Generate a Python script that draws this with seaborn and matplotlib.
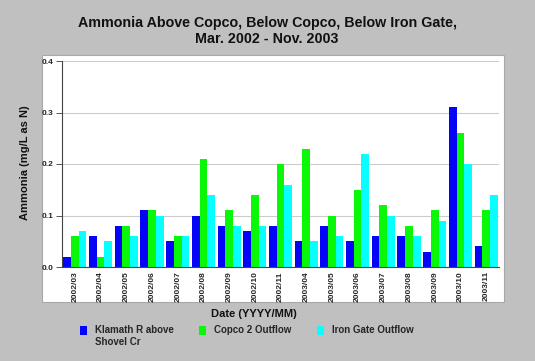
import numpy as np
import pandas as pd
import matplotlib
matplotlib.use('Agg')
import matplotlib.pyplot as plt
import seaborn as sns
from matplotlib.patches import Rectangle, Patch
from matplotlib.legend_handler import HandlerPatch

# Data
months = ['2002/03', '2002/04', '2002/05', '2002/06', '2002/07', '2002/08',
          '2002/09', '2002/10', '2002/11', '2003/04', '2003/05', '2003/06',
          '2003/07', '2003/08', '2003/09', '2003/10', '2003/11']
klamath = [0.02, 0.06, 0.08, 0.11, 0.05, 0.10, 0.08, 0.07, 0.08,
           0.05, 0.08, 0.05, 0.06, 0.06, 0.03, 0.31, 0.04]
copco = [0.06, 0.02, 0.08, 0.11, 0.06, 0.21, 0.11, 0.14, 0.20,
         0.23, 0.10, 0.15, 0.12, 0.08, 0.11, 0.26, 0.11]
irongate = [0.07, 0.05, 0.06, 0.10, 0.06, 0.14, 0.08, 0.08, 0.16,
            0.05, 0.06, 0.22, 0.10, 0.06, 0.09, 0.20, 0.14]
series_names = ['Klamath R above\nShovel Cr', 'Copco 2 Outflow', 'Iron Gate Outflow']
colors = ['#0404F6', '#08F808', '#08FFFF']

df = pd.DataFrame({
    'Date': months * 3,
    'Ammonia': klamath + copco + irongate,
    'Site': np.repeat(series_names, len(months)),
})

sns.set_theme(style='white')
plt.rcParams['font.family'] = ['Liberation Sans', 'DejaVu Sans']

W, H = 535, 361
fig = plt.figure(figsize=(W / 100, H / 100), dpi=100, facecolor='#C0C0C0')

# white panel behind the plot
fig.patches.append(Rectangle((42 / W, 1 - 302 / H), 462 / W, 247 / H,
                             transform=fig.transFigure, facecolor='white',
                             edgecolor='#A8A8A8', linewidth=0.8, zorder=-5))

ax = fig.add_axes([62 / W, 1 - 267 / H, 437 / W, 206 / H])
ax.set_zorder(2)
ax.set_facecolor('white')
sns.barplot(data=df, x='Date', y='Ammonia', hue='Site', palette=colors,
            saturation=1, width=0.9, linewidth=0, errorbar=None,
            legend=False, ax=ax)

ax.set_ylim(0, 0.4)
ax.set_xlim(-0.5, len(months) - 0.5)
ax.set_yticks([0.0, 0.1, 0.2, 0.3, 0.4])
ax.set_yticklabels(['0.0', '0.1', '0.2', '0.3', '0.4'], fontsize=6, fontweight='bold')
ax.set_xticks(range(len(months)))
ax.set_xticklabels(months, rotation=90, fontsize=6, fontweight='bold')
ax.set_xticks(np.arange(-0.5, len(months), 1.0), minor=True)
ax.tick_params(axis='x', which='major', length=0, pad=3)
ax.tick_params(axis='x', which='minor', length=3, width=0.7, color='#553333', direction='out')
ax.tick_params(axis='y', length=4, width=0.7, color='#555555', pad=2, left=True)
ax.yaxis.grid(True, color='#CCCCCC', linewidth=0.8)
ax.set_axisbelow(True)
for s in ['top', 'right']:
    ax.spines[s].set_visible(False)
for s in ['left', 'bottom']:
    ax.spines[s].set_color('#444444')
    ax.spines[s].set_linewidth(0.8)
ax.set_xlabel('')
ax.set_ylabel('')

fig.text(267 / W, 1 - 31 / H,
         'Ammonia Above Copco, Below Copco, Below Iron Gate,\nMar. 2002 - Nov. 2003',
         ha='center', va='center', fontsize=10.3, fontweight='bold', linespacing=1.25,
         color='#111111')
fig.text(297 / W, 1 - 314 / H, 'Date (YYYY/MM)', ha='right', va='center',
         fontsize=8, fontweight='bold', color='#111111')
fig.text(25 / W, 1 - 163 / H, 'Ammonia (mg/L as N)', ha='center', va='center',
         rotation=90, fontsize=8, fontweight='bold', color='#111111')


# legend boxes sit level with the first line of each label
def top_patch(legend, orig_handle, xdescent, ydescent, width, height, fontsize):
    return Rectangle((-xdescent, -ydescent + 0.6 * fontsize), width, height)


legend_labels = [n if '\n' in n else n + '\n ' for n in series_names]
handles = [Patch(facecolor=c, edgecolor='none') for c in colors]
fig.legend(handles=handles, labels=legend_labels, loc='upper left',
           bbox_to_anchor=(80 / W, 1 - 325 / H),
           ncol=3, frameon=False, prop={'size': 7, 'weight': 'bold'},
           handlelength=0.7, handleheight=1.0, handletextpad=0.8,
           columnspacing=2.65, borderpad=0, borderaxespad=0,
           handler_map={Patch: HandlerPatch(patch_func=top_patch)})

fig.savefig('out.png', dpi=100, facecolor=fig.get_facecolor())
